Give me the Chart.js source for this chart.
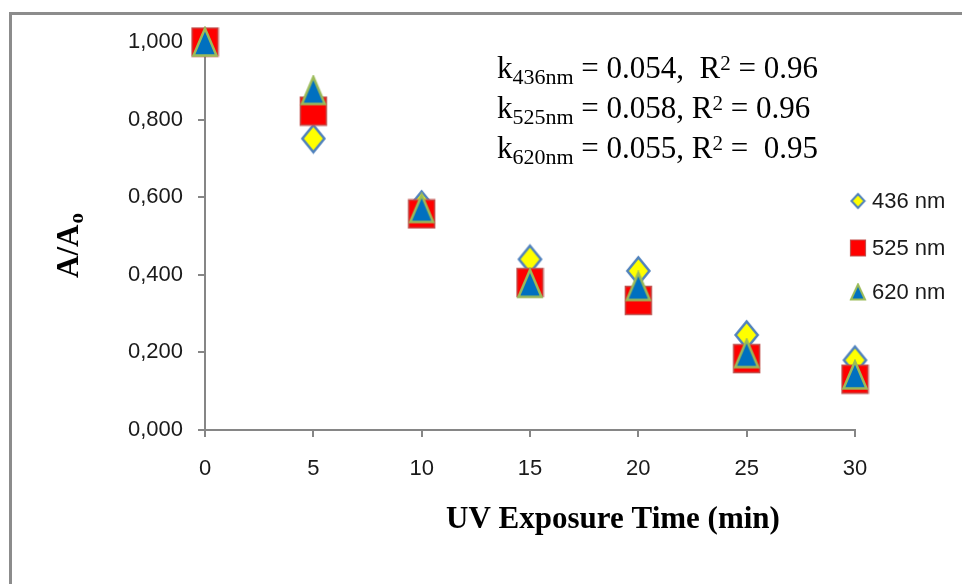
<!DOCTYPE html>
<html>
<head>
<meta charset="utf-8">
<script src="https://cdn.jsdelivr.net/npm/chart.js@4"></script>
<style>
  html, body { margin: 0; padding: 0; background: #fff; overflow: hidden; }
  #frame { position: absolute; left: 9px; top: 12px; width: 1000px; height: 1000px;
           border-left: 3px solid #8c8c8c; border-top: 3px solid #8c8c8c; }
  #wrap { position: absolute; left: 0; top: 0; width: 962px; height: 584px; }
</style>
</head>
<body>
<div id="frame"></div>
<div id="wrap"><canvas id="chart"></canvas></div>
<script>
// Данные графика
const times = [0, 5, 10, 15, 20, 25, 30];
const seriesLabels = ["436 nm", "525 nm", "620 nm"];
const values436 = [1.000, 0.751, 0.580, 0.440, 0.410, 0.245, 0.180];
const values525 = [1.000, 0.822, 0.557, 0.380, 0.334, 0.184, 0.131];
const values620 = [1.000, 0.875, 0.571, 0.378, 0.370, 0.197, 0.142];
const yTicks = [0, 0.2, 0.4, 0.6, 0.8, 1.0];
const xTicks = [0, 5, 10, 15, 20, 25, 30];

const axisColor = "#868686";
const textColor = "#1a1a1a";

// Маркеры рисуем на отдельных canvas, чтобы получить нужные пропорции
function makeMarker(shape, w, h, fill, stroke, lw) {
    const c = document.createElement("canvas");
    c.width = Math.ceil(w + lw * 2);
    c.height = Math.ceil(h + lw * 2);
    const g = c.getContext("2d");
    const cx = c.width / 2, cy = c.height / 2;
    g.beginPath();
    if (shape === "diamond") {
        g.moveTo(cx, cy - h / 2);
        g.lineTo(cx + w / 2, cy);
        g.lineTo(cx, cy + h / 2);
        g.lineTo(cx - w / 2, cy);
    } else if (shape === "triangle") {
        g.moveTo(cx, cy - h / 2);
        g.lineTo(cx + w / 2, cy + h / 2);
        g.lineTo(cx - w / 2, cy + h / 2);
    } else {
        g.rect(cx - w / 2, cy - h / 2, w, h);
    }
    g.closePath();
    g.fillStyle = fill;
    g.fill();
    g.lineWidth = lw;
    g.lineJoin = "miter";
    g.strokeStyle = stroke;
    g.stroke();
    return c;
}

const mDiamond = makeMarker("diamond", 22, 27, "#ffff00", "#4f81bd", 2.5);
const mSquare = makeMarker("square", 26, 28, "#ff0000", "#c0504d", 1.5);
const mTriangle = makeMarker("triangle", 23, 27, "#0070c0", "#9bbb59", 2.5);
const lDiamond = makeMarker("diamond", 13, 14, "#ffff00", "#4f81bd", 2);
const lSquare = makeMarker("square", 15, 16, "#ff0000", "#c0504d", 1.2);
const lTriangle = makeMarker("triangle", 14, 15, "#0070c0", "#9bbb59", 2);
const legendMarkers = [lDiamond, lSquare, lTriangle];

function toPoints(vals) {
    return times.map((t, i) => ({ x: t, y: vals[i] }));
}

// Текст из нескольких частей (индексы и степени)
function drawRich(ctx, x, y, parts) {
    let cx = x;
    parts.forEach(p => {
        ctx.font = p.f;
        ctx.fillText(p.t, cx, y + (p.dy || 0));
        cx += ctx.measureText(p.t).width;
    });
}

const textPlugin = {
    id: "texts",
    afterDraw(chart) {
        const ctx = chart.ctx;
        const area = chart.chartArea;
        ctx.save();
        ctx.fillStyle = "#000";
        ctx.textBaseline = "alphabetic";
        ctx.textAlign = "left";

        const serif = "'Liberation Serif', 'Times New Roman', serif";
        const main = "31px " + serif;
        const sub = "22px " + serif;
        const lines = [
            ["436nm", " = 0.054,  R", " = 0.96"],
            ["525nm", " = 0.058, R", " = 0.96"],
            ["620nm", " = 0.055, R", " =  0.95"]
        ];
        lines.forEach((l, i) => {
            drawRich(ctx, area.left + 292, 78 + i * 40, [
                { t: "k", f: main },
                { t: l[0], f: sub, dy: 6 },
                { t: l[1], f: main },
                { t: "2", f: "21px " + serif, dy: -8 },
                { t: l[2], f: main }
            ]);
        });

        // Подпись оси X
        ctx.font = "bold 31px " + serif;
        ctx.textAlign = "center";
        ctx.fillText("UV Exposure Time (min)", 613, 528);

        // Подпись оси Y
        ctx.translate(78, 278);
        ctx.rotate(-Math.PI / 2);
        ctx.textAlign = "left";
        ctx.font = "bold 31px " + serif;
        ctx.fillText("A/A", 0, 0);
        const wA = ctx.measureText("A/A").width;
        ctx.font = "bold 21px " + serif;
        ctx.fillText("o", wA + 1, 5);
        ctx.setTransform(1, 0, 0, 1, 0, 0);

        // Легенда
        ctx.font = "22px 'Liberation Sans', Arial, sans-serif";
        ctx.textBaseline = "middle";
        ctx.fillStyle = textColor;
        const legendY = [201, 248, 292];
        seriesLabels.forEach((lab, i) => {
            const m = legendMarkers[i];
            ctx.drawImage(m, 858 - m.width / 2, legendY[i] - m.height / 2);
            ctx.fillText(lab, 872, legendY[i] + 1);
        });
        ctx.restore();
    }
};

new Chart(document.getElementById("chart"), {
    type: "scatter",
    data: {
        datasets: [
            { label: seriesLabels[0], data: toPoints(values436), pointStyle: mDiamond, order: 3, clip: false },
            { label: seriesLabels[1], data: toPoints(values525), pointStyle: mSquare, order: 2, clip: false },
            { label: seriesLabels[2], data: toPoints(values620), pointStyle: mTriangle, order: 1, clip: false }
        ]
    },
    options: {
        responsive: true,
        maintainAspectRatio: false,
        animation: false,
        layout: { padding: { left: 0, top: 42, right: 107, bottom: 0 } },
        plugins: {
            legend: { display: false },
            tooltip: { enabled: false }
        },
        scales: {
            x: {
                type: "linear",
                min: 0,
                max: 30,
                afterBuildTicks: s => { s.ticks = xTicks.map(v => ({ value: v })); },
                afterFit: s => { s.height = 154; },
                grid: { display: true, drawOnChartArea: false, drawTicks: true, tickLength: 7, color: axisColor, lineWidth: 2 },
                border: { display: true, color: axisColor, width: 2 },
                ticks: {
                    padding: 19,
                    color: textColor,
                    font: { family: "'Liberation Sans', Arial, sans-serif", size: 22 }
                }
            },
            y: {
                min: 0,
                max: 1,
                afterBuildTicks: s => { s.ticks = yTicks.map(v => ({ value: v })); },
                afterFit: s => { s.width = 205; },
                grid: { display: true, drawOnChartArea: false, drawTicks: true, tickLength: 7, color: axisColor, lineWidth: 2 },
                border: { display: true, color: axisColor, width: 2 },
                ticks: {
                    padding: 15,
                    color: textColor,
                    font: { family: "'Liberation Sans', Arial, sans-serif", size: 22 },
                    callback: v => v.toFixed(3).replace(".", ",")
                }
            }
        }
    },
    plugins: [textPlugin]
});
</script>
</body>
</html>
